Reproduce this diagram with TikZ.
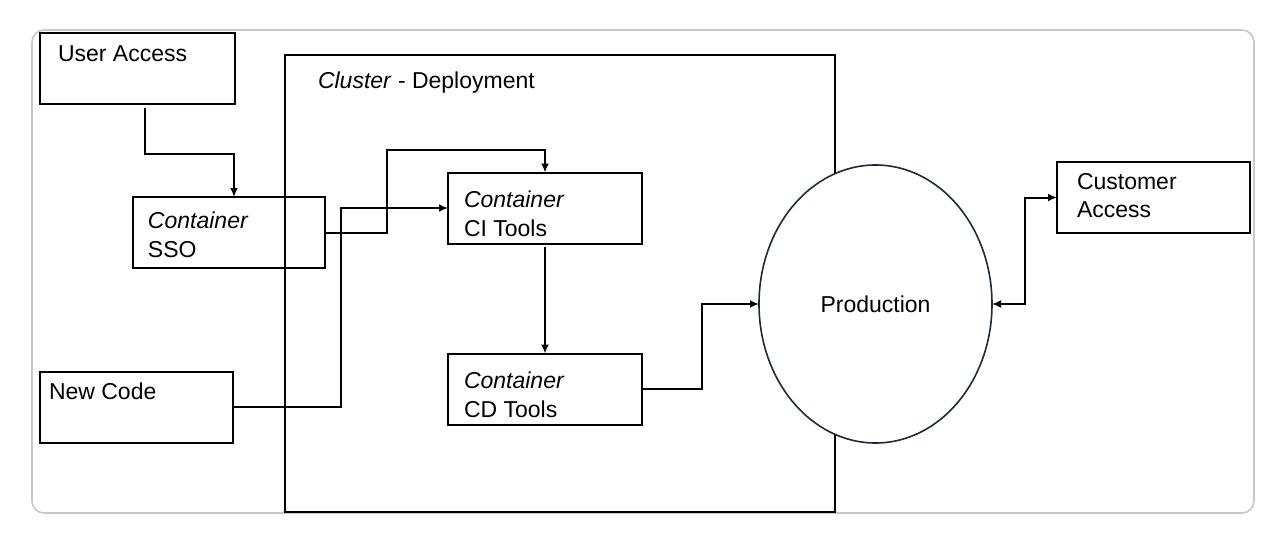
\documentclass[tikz,border=0pt]{standalone}
\usepackage{fontspec}
\setmainfont{Liberation Sans}
\usetikzlibrary{arrows.meta,positioning,shapes.geometric}
\definecolor{framegray}{RGB}{200,200,200}
\definecolor{prodline}{RGB}{28,42,58}

\begin{document}
\begin{tikzpicture}[x=0.5pt,y=-0.5pt,
every node/.style={inner sep=0pt,outer sep=0pt},
box/.style={draw,line width=1pt,minimum width=97pt,minimum height=35.5pt},
txt/.style={anchor=base west,font=\fontsize{11.5}{13}\selectfont},
conn/.style={line width=1pt,-{Latex[length=4.5pt,width=4pt]}}]
\useasboundingbox (0,0) rectangle (1282,536);
\draw[framegray,line width=0.8pt,rounded corners=6pt] (32,30) rectangle (1254,513);
\node[box,minimum width=275pt,minimum height=228.5pt] (cluster) at (560,283.5) {};
\node[box,minimum width=97.5pt] (usr) at (137.5,68.5) {};
\node[box,minimum width=96pt] (sso) at (229,232.5) {};
\node[box] (ci) at (545,208) {};
\node[box] (cd) at (545,389) {};
\node[box,minimum width=96.5pt] (newcode) at (136,407) {};
\node[box,minimum width=96.5pt] (cust) at (1153.5,197.5) {};
\node[ellipse,draw=prodline,line width=0.8pt,fill=white,minimum width=116.5pt,minimum height=139pt,font=\fontsize{11.5}{13}\selectfont] (prod) at (875.5,304) {Production};
\node[txt] (usr-t) at (58,61) {User Access};
\node[txt] (cluster-t) at (318,88) {\textit{Cluster} - Deployment};
\node[txt] (sso-t1) at (148,228) {\textit{Container}};
\node[txt] (sso-t2) at (148,257) {SSO};
\node[txt] (ci-t1) at (464,207) {\textit{Container}};
\node[txt] (ci-t2) at (464,236) {CI Tools};
\node[txt] (cd-t1) at (464,388) {\textit{Container}};
\node[txt] (cd-t2) at (464,417) {CD Tools};
\node[txt] (newcode-t) at (49,399) {New Code};
\node[txt] (cust-t1) at (1077,189) {Customer};
\node[txt] (cust-t2) at (1077,217) {Access};
\draw[conn] ([xshift=52.5pt,yshift=-2pt]usr.south west) -- ++(0,46) -| ([xshift=50.5pt]sso.north west);
\draw[conn] (sso.east) -- ++(62,0) |- ([yshift=11.5pt]ci.north) -- (ci.north);
\draw[conn] (newcode.east) -- ++(108,0) |- (ci.west);
\draw[conn,shorten <=1.5pt] (ci.south) -- (cd.north);
\draw[conn] (cd.east) -- ++(60,0) |- (prod.west);
\draw[conn,{Latex[length=4.5pt,width=4pt]}-{Latex[length=4.5pt,width=4pt]}] (prod.east) -- ++(33,0) |- (cust.west);
\end{tikzpicture}
\end{document}
